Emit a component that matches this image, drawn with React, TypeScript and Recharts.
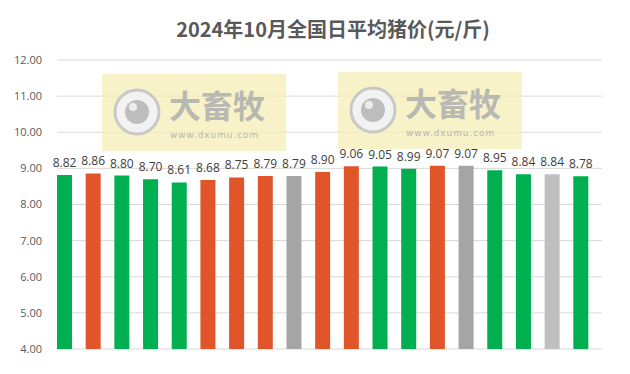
import React from "react";
import { BarChart, Bar, XAxis, YAxis, CartesianGrid, Cell, LabelList } from "recharts";

const days = ["1","2","3","4","5","6","7","8","9","10","11","12","13","14","15","16","17","18","19"];
const prices = [8.82, 8.86, 8.80, 8.70, 8.61, 8.68, 8.75, 8.79, 8.79, 8.90, 9.06, 9.05, 8.99, 9.07, 9.07, 8.95, 8.84, 8.84, 8.78];
const barColors = [
  "#00B050", "#E0552A", "#00B050", "#00B050", "#00B050", "#E0552A", "#E0552A", "#E0552A", "#A5A5A5", "#E0552A",
  "#E0552A", "#00B050", "#00B050", "#E0552A", "#A5A5A5", "#00B050", "#00B050", "#BFBFBF", "#00B050",
];
const yTicks = [4, 5, 6, 7, 8, 9, 10, 11, 12];
const title = "2024年10月全国日平均猪价(元/斤)";

const data = days.map((d, i) => ({ day: d, price: prices[i] }));

function Watermark({ x, y }: { x: number; y: number }) {
  return (
    <g>
      <rect x={x} y={y} width={184} height={77} fill="#F4EDB6" opacity={0.75} />
      <circle cx={x + 35} cy={y + 38} r={22} fill="#F2F2F2" stroke="#C8C8C8" strokeWidth={3} />
      <circle cx={x + 35} cy={y + 38} r={12} fill="#BDBDBD" />
      <circle cx={x + 31} cy={y + 33} r={4} fill="#EDEDED" />
      <text x={x + 67} y={y + 44} fontSize={32} fontWeight={700} fill="#AFAFAF" fontFamily="Noto Sans CJK SC" opacity={0.85}>
        大畜牧
      </text>
      <text x={x + 68} y={y + 64} fontSize={9} fill="#B5B5B5" fontFamily="DejaVu Sans" letterSpacing={0.9}>
        www.dxumu.com
      </text>
    </g>
  );
}

export default function App() {
  return (
    <div style={{ position: "fixed", left: 0, top: 0, width: 630, height: 374, background: "#fff" }}>
      <div
        style={{
          position: "absolute",
          left: 0,
          top: 15,
          width: 666,
          textAlign: "center",
          fontFamily: "Noto Sans CJK SC",
          fontWeight: 700,
          fontSize: 20,
          color: "#595959",
          lineHeight: "28px",
        }}
      >
        {title}
      </div>
      <BarChart
        width={630}
        height={374}
        data={data}
        margin={{ top: 60, right: 28, bottom: 25, left: 0 }}
        barSize={15}
      >
        <CartesianGrid horizontal vertical={false} stroke="#D9D9D9" strokeWidth={1} />
        <XAxis dataKey="day" hide padding={{ left: -7, right: 7 }} />
        <YAxis
          domain={[4, 12]}
          ticks={yTicks}
          width={57}
          axisLine={false}
          tickLine={false}
          tickMargin={9}
          tickFormatter={(v: number) => v.toFixed(2)}
          tick={{ fill: "#595959", fontSize: 11, fontFamily: "Open Sans" }}
        />
        <Bar dataKey="price" isAnimationActive={false}>
          {data.map((_, i) => (
            <Cell key={i} fill={barColors[i]} />
          ))}
          <LabelList
            dataKey="price"
            position="top"
            offset={8}
            formatter={(v: number) => v.toFixed(2)}
            style={{ fill: "#404040", fontSize: 12, fontFamily: "Open Sans" }}
          />
        </Bar>
      </BarChart>
      <svg width={630} height={374} style={{ position: "absolute", left: 0, top: 0, pointerEvents: "none" }}>
        <Watermark x={102} y={74} />
        <Watermark x={338} y={72} />
      </svg>
    </div>
  );
}
